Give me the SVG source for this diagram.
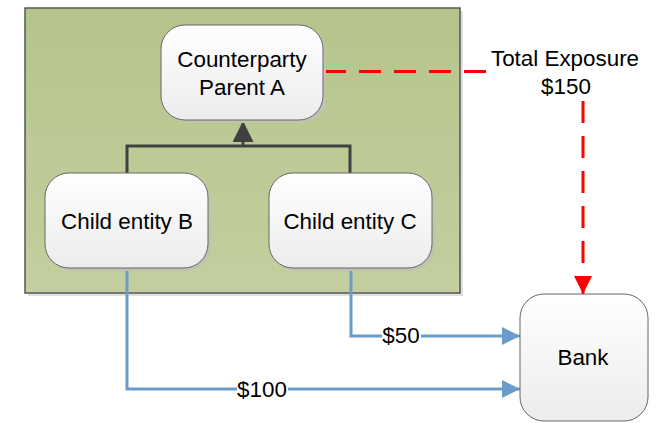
<svg xmlns="http://www.w3.org/2000/svg" width="656" height="423" viewBox="0 0 656 423">
<defs>
<linearGradient id="green" x1="0" y1="0" x2="0" y2="1">
<stop offset="0" stop-color="#b5c48b"/>
<stop offset="1" stop-color="#c3cf9f"/>
</linearGradient>
<linearGradient id="node" x1="0" y1="0" x2="0" y2="1">
<stop offset="0" stop-color="#ffffff"/>
<stop offset="1" stop-color="#ececec"/>
</linearGradient>
<marker id="blueArrow" markerUnits="userSpaceOnUse" markerWidth="20" markerHeight="20" refX="18" refY="9" orient="auto">
<path d="M0,0 L18,9 L0,18 Z" fill="#6b9bc8"/>
</marker>
<marker id="redArrow" markerUnits="userSpaceOnUse" markerWidth="20" markerHeight="20" refX="18" refY="9" orient="auto">
<path d="M0,0 L18,9 L0,18 Z" fill="#ff0000"/>
</marker>
<marker id="darkArrow" markerUnits="userSpaceOnUse" markerWidth="24" markerHeight="24" refX="21" refY="10.5" orient="auto">
<path d="M0,0 L21,10.5 L0,21 Z" fill="#404040"/>
</marker>
</defs>
<style>
.txt{font-family:"Liberation Sans",Arial,sans-serif;font-size:22.4px;fill:#000;text-anchor:middle}
.box{fill:url(#node);stroke:#666;stroke-width:1}
.shadow{fill:#c0c4ae}
.blue{fill:none;stroke:#6b9bc8;stroke-width:3}
.red{fill:none;stroke:#ff0000;stroke-width:3;stroke-dasharray:22 13}
.dark{fill:none;stroke:#404040;stroke-width:3}
</style>

<g id="container">
<rect x="28" y="11" width="435" height="285" fill="#e0e0e0"/>
<rect x="25" y="8" width="435" height="285" fill="url(#green)" stroke="#555" stroke-width="1.5"/>
</g>

<g id="connectors">
<path class="dark" d="M127,173 V146 H350 V173"/>
<path class="dark" d="M243,146 V121" marker-end="url(#darkArrow)"/>
<path class="red" d="M324,71.5 H490"/>
<path class="red" d="M583,101 V294" marker-end="url(#redArrow)"/>
<path class="blue" d="M351,268 V336 H520" marker-end="url(#blueArrow)"/>
<path class="blue" d="M127,268 V389 H520" marker-end="url(#blueArrow)"/>
<rect x="382" y="324" width="39" height="24" fill="#fff"/>
<text class="txt" x="401" y="343">$50</text>
<rect x="237" y="377" width="51" height="24" fill="#fff"/>
<text class="txt" x="262" y="397">$100</text>
<text class="txt" x="565" y="66">Total Exposure</text>
<text class="txt" x="566" y="94">$150</text>
</g>

<g id="parentA">
<rect class="shadow" x="164" y="28" width="162" height="95" rx="24"/>
<rect class="box" x="161" y="25" width="162" height="95" rx="24"/>
<text class="txt" x="242" y="67">Counterparty</text>
<text class="txt" x="242" y="95">Parent A</text>
</g>

<g id="childB">
<rect class="shadow" x="48" y="176" width="163" height="95" rx="24"/>
<rect class="box" x="45" y="173" width="163" height="95" rx="24"/>
<text class="txt" x="127" y="229">Child entity B</text>
</g>

<g id="childC">
<rect class="shadow" x="272" y="176" width="163" height="95" rx="24"/>
<rect class="box" x="269" y="173" width="163" height="95" rx="24"/>
<text class="txt" x="350" y="229">Child entity C</text>
</g>

<g id="bank">
<rect class="box" x="520" y="294" width="128" height="127" rx="24"/>
<text class="txt" x="583" y="365">Bank</text>
</g>
</svg>
